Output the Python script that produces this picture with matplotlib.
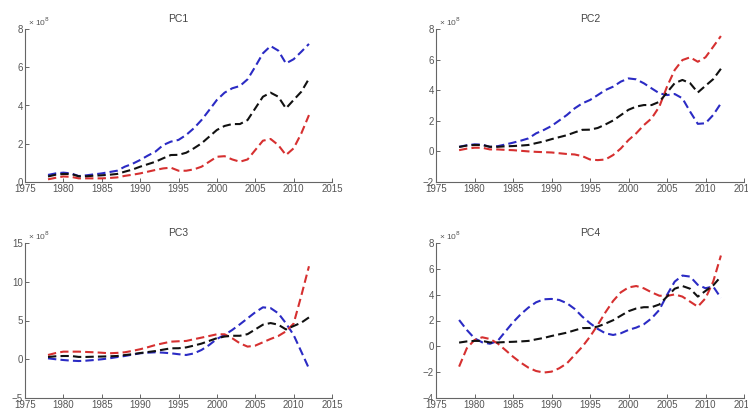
import matplotlib
matplotlib.use("Agg")
import matplotlib.pyplot as plt

years = list(range(1978, 2013))

# shared (black) series
actual = [0.29, 0.38, 0.42, 0.42, 0.30, 0.30, 0.33, 0.35, 0.38, 0.42, 0.54, 0.65,
          0.80, 0.93, 1.06, 1.24, 1.41, 1.42, 1.53, 1.76, 2.02, 2.37, 2.72, 2.93,
          3.03, 3.03, 3.24, 3.85, 4.46, 4.67, 4.46, 3.85, 4.29, 4.72, 5.40]

pc1_blue = [0.37, 0.45, 0.49, 0.45, 0.31, 0.35, 0.40, 0.45, 0.52, 0.59, 0.80, 0.95,
            1.15, 1.38, 1.59, 1.93, 2.11, 2.20, 2.46, 2.81, 3.24, 3.76, 4.29, 4.67,
            4.90, 5.02, 5.37, 6.03, 6.73, 7.11, 6.87, 6.20, 6.42, 6.81, 7.22]
pc1_red = [0.14, 0.22, 0.29, 0.27, 0.19, 0.19, 0.19, 0.19, 0.21, 0.24, 0.32, 0.38,
           0.45, 0.54, 0.63, 0.71, 0.75, 0.59, 0.59, 0.66, 0.80, 1.06, 1.32, 1.35,
           1.18, 1.06, 1.18, 1.67, 2.16, 2.25, 1.93, 1.41, 1.76, 2.54, 3.50]

pc2_blue = [0.30, 0.40, 0.46, 0.44, 0.30, 0.34, 0.45, 0.57, 0.70, 0.85, 1.18, 1.40,
            1.66, 2.02, 2.38, 2.81, 3.14, 3.36, 3.68, 4.01, 4.23, 4.56, 4.77, 4.71,
            4.45, 4.12, 3.80, 3.68, 3.75, 3.47, 2.60, 1.80, 1.84, 2.38, 3.14]
pc2_red = [0.08, 0.18, 0.24, 0.24, 0.13, 0.13, 0.10, 0.08, 0.04, 0.00, -0.03, -0.05,
           -0.07, -0.12, -0.17, -0.20, -0.31, -0.53, -0.57, -0.53, -0.24, 0.19, 0.74, 1.18,
           1.72, 2.16, 2.92, 4.23, 5.32, 5.97, 6.15, 5.86, 6.15, 6.84, 7.54]

pc3_blue = [0.12, 0.00, -0.10, -0.18, -0.23, -0.18, -0.10, 0.00, 0.12, 0.28, 0.42, 0.60,
            0.77, 0.85, 0.90, 0.85, 0.77, 0.65, 0.55, 0.75, 1.20, 1.84, 2.62, 3.13,
            3.78, 4.51, 5.28, 6.06, 6.70, 6.60, 5.93, 4.64, 3.13, 0.98, -1.20]
pc3_red = [0.55, 0.80, 0.98, 0.98, 0.98, 0.94, 0.90, 0.84, 0.77, 0.82, 0.90, 1.08,
           1.29, 1.55, 1.84, 2.06, 2.27, 2.32, 2.36, 2.58, 2.79, 3.00, 3.22, 3.22,
           2.71, 2.06, 1.63, 1.76, 2.19, 2.62, 3.00, 3.60, 4.60, 8.20, 12.00]

pc4_blue = [2.04, 1.27, 0.62, 0.31, 0.20, 0.41, 1.14, 1.86, 2.48, 3.00, 3.41, 3.64,
            3.67, 3.59, 3.34, 2.90, 2.30, 1.79, 1.35, 1.01, 0.88, 1.01, 1.27, 1.45,
            1.71, 2.17, 2.82, 3.98, 5.01, 5.48, 5.40, 4.76, 4.50, 4.63, 3.75]
pc4_red = [-1.57, -0.15, 0.49, 0.70, 0.57, 0.23, -0.28, -0.80, -1.26, -1.65, -1.91, -2.03,
           -1.96, -1.70, -1.32, -0.67, -0.03, 0.75, 1.65, 2.63, 3.51, 4.18, 4.56, 4.67,
           4.49, 4.18, 3.92, 3.90, 4.02, 3.85, 3.46, 3.07, 3.72, 5.01, 7.03]

titles = ["PC1", "PC2", "PC3", "PC4"]
blues = [pc1_blue, pc2_blue, pc3_blue, pc4_blue]
reds = [pc1_red, pc2_red, pc3_red, pc4_red]
ylims = [(0, 8), (-2, 8), (-5, 15), (-4, 8)]
yticks = [[0, 2, 4, 6, 8], [-2, 0, 2, 4, 6, 8], [-5, 0, 5, 10, 15], [-4, -2, 0, 2, 4, 6, 8]]
xticks = [1975, 1980, 1985, 1990, 1995, 2000, 2005, 2010, 2015]

plt.rcParams['font.family'] = ['Liberation Sans', 'DejaVu Sans']

W, H = 748, 409
fig = plt.figure(figsize=(W / 100, H / 100), dpi=100)
positions = [
    (25, 29, 332, 182),
    (436, 29, 744, 182),
    (25, 243, 332, 398),
    (436, 243, 744, 398),
]

blue_c = '#2b2bc4'
red_c = '#d63030'
black_c = '#111111'
tick_c = '#555555'

for i in range(4):
    x0, y0, x1, y1 = positions[i]
    ax = fig.add_axes([x0 / W, 1 - y1 / H, (x1 - x0) / W, (y1 - y0) / H])
    ax.plot(years, blues[i], color=blue_c, lw=1.5, linestyle=(0, (4, 2)))
    ax.plot(years, reds[i], color=red_c, lw=1.5, linestyle=(0, (4, 2)))
    ax.plot(years, actual, color=black_c, lw=1.5, linestyle=(0, (4, 2)))
    ax.set_xlim(1975, 2015)
    ax.set_ylim(*ylims[i])
    ax.set_xticks(xticks)
    ax.set_yticks(yticks[i])
    ax.spines['top'].set_visible(False)
    ax.spines['right'].set_visible(False)
    for s in ('left', 'bottom'):
        ax.spines[s].set_color('#666666')
        ax.spines[s].set_linewidth(0.8)
    ax.tick_params(direction='in', length=3, width=0.7, colors='#666666',
                   labelcolor=tick_c, labelsize=7, pad=1.5)
    ax.set_title(titles[i], fontsize=7.5, color='#444444', pad=5)
    ax.text(0.01, 1.005, r'× 10$^8$', transform=ax.transAxes, fontsize=6,
            color='#555555', ha='left', va='bottom')

fig.savefig('out.png', dpi=100)
